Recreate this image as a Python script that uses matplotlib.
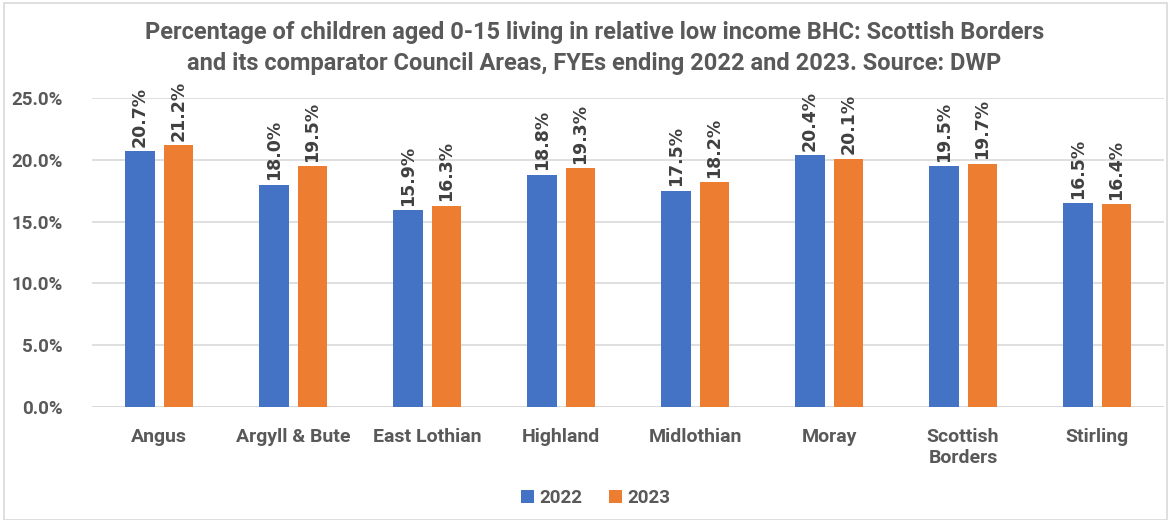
import matplotlib
matplotlib.use("Agg")
import matplotlib.pyplot as plt
import matplotlib.patches as mpatches
from matplotlib.ticker import FuncFormatter
import numpy as np

# ── data ──
areas = ["Angus", "Argyll & Bute", "East Lothian", "Highland", "Midlothian",
         "Moray", "Scottish\nBorders", "Stirling"]
y2022 = [20.7, 18.0, 15.9, 18.8, 17.5, 20.4, 19.5, 16.5]
y2023 = [21.2, 19.5, 16.3, 19.3, 18.2, 20.1, 19.7, 16.4]
years = ["2022", "2023"]
yticks = [0, 5, 10, 15, 20, 25]

BLUE = "#4472C4"
ORANGE = "#ED7D31"
TEXT = "#595959"
LABEL = "#404040"
GRID = "#D9D9D9"

plt.rcParams["font.family"] = ["Roboto", "DejaVu Sans"]

fig = plt.figure(figsize=(11.68, 5.2), dpi=100)
ax = fig.add_axes([0.0788, 0.2173, 0.9178, 0.5942])

x = np.arange(len(areas))
w = 0.223
off = 0.145
for vals, dx, col, lab in [(y2022, -off, BLUE, years[0]), (y2023, off, ORANGE, years[1])]:
    bars = ax.bar(x + dx, vals, width=w, color=col, label=lab, zorder=3)
    for b, v in zip(bars, vals):
        ax.text(b.get_x() + b.get_width() / 2, v + 0.35, f"{v:.1f}%",
                rotation=90, ha="center", va="bottom", fontsize=12.5,
                fontweight="bold", color=LABEL, family="DejaVu Sans")

ax.set_xlim(-0.5, 7.5)
ax.set_ylim(0, 25)
ax.set_yticks(yticks)
ax.yaxis.set_major_formatter(FuncFormatter(lambda v, p: f"{v:.1f}%"))
ax.set_xticks(x)
ax.set_xticklabels(areas, fontsize=14, fontweight="bold", color=TEXT,
                   linespacing=1.25)
for t in ax.get_yticklabels():
    t.set_fontsize(13.5)
    t.set_fontweight("bold")
    t.set_color(TEXT)
ax.tick_params(length=0, pad=15)
ax.tick_params(axis="y", pad=21)
ax.grid(axis="y", color=GRID, lw=1.2, zorder=0)
for s in ax.spines.values():
    s.set_visible(False)
ax.axhline(0, color=GRID, lw=1.2, zorder=2)

fig.text(0.509, 0.908,
         "Percentage of children aged 0-15 living in relative low income BHC: Scottish Borders\n"
         "and its comparator Council Areas, FYEs ending 2022 and 2023. Source: DWP",
         ha="center", va="center", fontsize=17, fontweight="bold", color=TEXT,
         linespacing=1.45)

leg = fig.legend(loc="center", bbox_to_anchor=(0.51, 0.043), ncol=2, frameon=False,
                 handlelength=0.7, handleheight=0.7, handletextpad=0.3,
                 columnspacing=1.4, prop={"size": 13.5, "weight": "bold"})
for t in leg.get_texts():
    t.set_color(TEXT)

fig.patches.append(mpatches.Rectangle((0.003, 0.0), 0.996, 0.995, transform=fig.transFigure,
                                      fill=False, edgecolor=GRID, lw=1.2))

fig.savefig("out.png", dpi=100, facecolor="white")
